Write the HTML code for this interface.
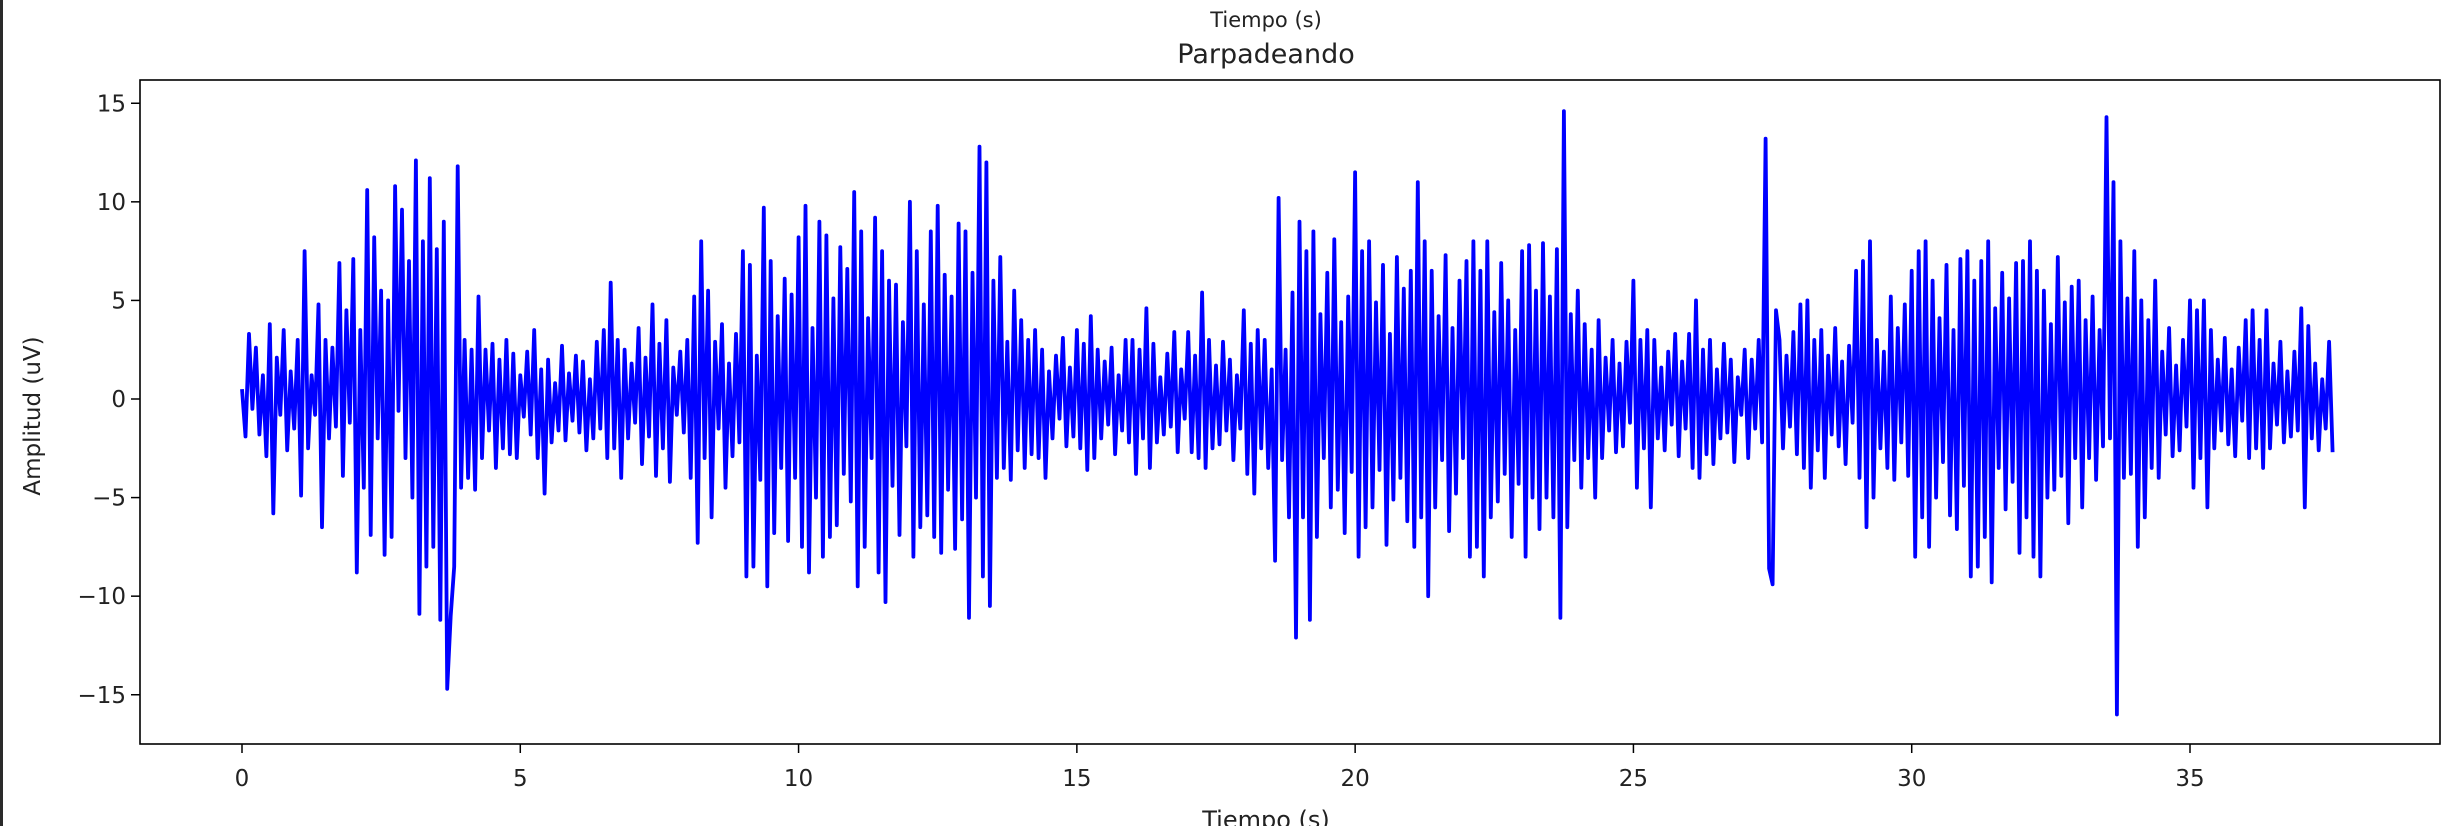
<!DOCTYPE html>
<html><head><meta charset="utf-8"><style>
html,body{margin:0;padding:0;background:#fff;}
body{width:2442px;height:826px;overflow:hidden;position:relative;}
svg text{font-family:"DejaVu Sans","Liberation Sans",sans-serif;fill:#222;}
</style></head><body>
<svg id="chart" width="2442" height="826" viewBox="0 0 2442 826" xmlns="http://www.w3.org/2000/svg">
<rect x="0" y="0" width="2442" height="826" fill="#fff"/>
<rect x="0" y="0" width="3" height="826" fill="#2a2a2a"/>
<text x="1266" y="27" font-size="21" text-anchor="middle">Tiempo (s)</text>
<text x="1266" y="63" font-size="27" text-anchor="middle">Parpadeando</text>
<text x="1266" y="828" font-size="24" text-anchor="middle">Tiempo (s)</text>
<text transform="translate(40,416) rotate(-90)" font-size="23" text-anchor="middle">Amplitud (uV)</text>
<g id="plot"></g>
<rect x="140" y="80" width="2300" height="664" fill="none" stroke="#000" stroke-width="1.6"/>
</svg>
<script>
const xTicks = [0,5,10,15,20,25,30,35];
const yTicks = [15,10,5,0,-5,-10,-15];
const yTickLabels = ["15","10","5","0","\u22125","\u221210","\u221215"];
const sampleStep = 0.0625;
const amplitude = [
0.5,-1.9,3.3,-0.5,2.6,-1.8,1.2,-2.9,3.8,-5.8,2.1,-0.8,3.5,-2.6,1.4,-1.5,
3.0,-4.9,7.5,-2.5,1.2,-0.8,4.8,-6.5,3.0,-2.0,2.6,-1.4,6.9,-3.9,4.5,-1.2,
7.1,-8.8,3.5,-4.5,10.6,-6.9,8.2,-2.0,5.5,-7.9,5.0,-7.0,10.8,-0.6,9.6,-3.0,
7.0,-5.0,12.1,-10.9,8.0,-8.5,11.2,-7.5,7.6,-11.2,9.0,-14.7,-11.0,-8.5,11.8,-4.5,
3.0,-4.0,2.5,-4.6,5.2,-3.0,2.5,-1.6,2.8,-3.5,2.0,-2.5,3.0,-2.8,2.3,-3.0,
1.2,-0.9,2.4,-1.8,3.5,-3.0,1.5,-4.8,2.0,-2.2,0.8,-1.6,2.7,-2.1,1.3,-1.1,
2.2,-1.7,1.9,-2.6,1.0,-2.0,2.9,-1.5,3.5,-3.0,5.9,-2.5,3.0,-4.0,2.5,-2.0,
1.8,-1.2,3.6,-3.3,2.1,-1.9,4.8,-3.9,2.8,-2.5,4.0,-4.2,1.6,-0.8,2.4,-1.7,
3.0,-4.0,5.2,-7.3,8.0,-3.0,5.5,-6.0,2.9,-1.5,3.8,-4.5,1.8,-2.9,3.3,-2.2,
7.5,-9.0,6.8,-8.5,2.2,-4.1,9.7,-9.5,7.0,-6.8,4.2,-3.5,6.1,-7.2,5.3,-4.0,
8.2,-7.5,9.8,-8.8,3.6,-5.0,9.0,-8.0,8.3,-7.0,5.1,-6.4,7.7,-3.8,6.6,-5.2,
10.5,-9.5,8.5,-7.5,4.1,-3.0,9.2,-8.8,7.5,-10.3,6.0,-4.4,5.8,-6.9,3.9,-2.4,
10.0,-8.0,7.5,-6.5,4.8,-5.9,8.5,-7.0,9.8,-7.8,6.3,-4.6,5.2,-7.6,8.9,-6.1,
8.5,-11.1,6.4,-5.0,12.8,-9.0,12.0,-10.5,6.0,-4.0,7.2,-3.5,2.9,-4.1,5.5,-2.6,
4.0,-3.5,3.0,-2.8,3.5,-3.0,2.5,-4.0,1.4,-2.0,2.2,-1.0,3.1,-2.4,1.6,-1.9,
3.5,-2.5,2.8,-3.6,4.2,-3.0,2.5,-2.0,1.9,-1.3,2.6,-2.8,1.2,-1.6,3.0,-2.2,
3.0,-3.8,2.5,-2.0,4.6,-3.5,2.8,-2.2,1.1,-1.8,2.3,-1.4,3.4,-2.7,1.5,-1.0,
3.4,-2.7,2.2,-3.0,5.4,-3.5,3.0,-2.5,1.7,-2.3,2.9,-1.6,2.0,-3.1,1.2,-1.5,
4.5,-3.8,2.8,-4.8,3.5,-2.5,3.0,-3.5,1.5,-8.2,10.2,-3.1,2.5,-6.0,5.4,-12.1,
9.0,-6.0,7.5,-11.2,8.5,-7.0,4.3,-3.0,6.4,-5.5,8.1,-4.6,3.9,-6.8,5.2,-3.7,
11.5,-8.0,7.5,-6.5,8.0,-5.5,4.9,-3.6,6.8,-7.4,3.3,-5.1,7.2,-4.0,5.6,-6.2,
6.5,-7.5,11.0,-6.0,8.0,-10.0,6.5,-5.5,4.2,-3.1,7.3,-6.7,3.6,-4.8,6.0,-3.0,
7.0,-8.0,8.0,-7.5,6.5,-9.0,8.0,-6.0,4.4,-5.2,6.9,-3.8,5.0,-7.0,3.5,-4.3,
7.5,-8.0,7.8,-5.0,5.5,-6.6,7.9,-5.0,5.2,-6.0,7.6,-11.1,14.6,-6.5,4.3,-3.1,
5.5,-4.5,3.8,-3.0,2.5,-5.0,4.0,-3.0,2.1,-1.6,3.0,-2.7,1.8,-2.4,2.9,-1.2,
6.0,-4.5,3.0,-2.5,3.5,-5.5,3.0,-2.0,1.6,-2.6,2.4,-1.3,3.3,-2.9,1.9,-1.5,
3.3,-3.5,5.0,-4.0,2.5,-2.8,3.0,-3.3,1.5,-2.0,2.8,-1.7,2.0,-3.2,1.1,-0.8,
2.5,-3.0,2.0,-1.5,3.0,-2.2,13.2,-8.6,-9.4,4.5,3.0,-2.5,2.2,-1.4,3.4,-2.8,
4.8,-3.5,5.0,-4.5,3.0,-2.6,3.5,-4.0,2.2,-1.8,3.6,-2.4,1.9,-3.3,2.7,-1.2,
6.5,-4.0,7.0,-6.5,8.0,-5.0,3.0,-2.5,2.4,-3.5,5.2,-4.1,3.6,-2.2,4.8,-3.9,
6.5,-8.0,7.5,-6.0,8.0,-7.5,6.0,-5.0,4.1,-3.2,6.8,-5.9,3.5,-6.6,7.1,-4.4,
7.5,-9.0,6.0,-8.5,7.0,-7.0,8.0,-9.3,4.6,-3.5,6.4,-5.6,5.1,-4.2,6.9,-7.8,
7.0,-6.0,8.0,-8.0,6.5,-9.0,5.5,-5.0,3.8,-4.6,7.2,-3.9,4.9,-6.3,5.7,-3.0,
6.0,-5.5,4.0,-3.0,5.2,-4.1,3.5,-2.4,14.3,-2.0,11.0,-16.0,8.0,-4.0,5.1,-3.8,
7.5,-7.5,5.0,-6.0,4.0,-3.5,6.0,-4.0,2.4,-1.8,3.6,-2.9,1.7,-2.6,3.0,-1.4,
5.0,-4.5,4.5,-3.0,5.0,-5.5,3.5,-2.5,2.0,-1.6,3.1,-2.3,1.5,-2.9,2.6,-1.1,
4.0,-3.0,4.5,-2.5,3.0,-3.5,4.5,-2.5,1.8,-1.3,2.9,-2.2,1.4,-1.9,2.4,-1.6,
4.6,-5.5,3.7,-2.0,1.8,-2.6,1.0,-1.5,2.9,-2.7
];
const NS="http://www.w3.org/2000/svg";
const X0=140,X1=2440,Y0=80,Y1=744;
function xs(t){return 242+t*(2190-242)/35;}
function ys(v){return 399-v*(695.5-104)/30;}
const plot=document.getElementById('plot');
let d='';
for(let i=0;i<amplitude.length;i++){d+=(i?'L':'M')+xs(i*sampleStep).toFixed(1)+' '+ys(amplitude[i]).toFixed(1);}
const line=document.createElementNS(NS,'path');
line.setAttribute('d',d);line.setAttribute('fill','none');line.setAttribute('stroke','#0000ff');
line.setAttribute('stroke-width','3.8');line.setAttribute('stroke-linejoin','round');


plot.appendChild(line);
xTicks.forEach(function(t){
  const tk=document.createElementNS(NS,'line');
  tk.setAttribute('x1',xs(t));tk.setAttribute('x2',xs(t));tk.setAttribute('y1',Y1);tk.setAttribute('y2',Y1+9);tk.setAttribute('stroke','#000');tk.setAttribute('stroke-width','1.5');
  
  
  plot.appendChild(tk);
  const tx=document.createElementNS(NS,'text');
  tx.setAttribute('x',xs(t));tx.setAttribute('y',Y1+42);tx.setAttribute('font-size','23');tx.setAttribute('text-anchor','middle');
  tx.textContent=String(t);
  
  
  plot.appendChild(tx);
});
yTicks.forEach(function(v,i){
  const tk=document.createElementNS(NS,'line');
  tk.setAttribute('x1',X0-9);tk.setAttribute('x2',X0);tk.setAttribute('y1',ys(v));tk.setAttribute('y2',ys(v));tk.setAttribute('stroke','#000');tk.setAttribute('stroke-width','1.5');
  
  
  plot.appendChild(tk);
  const tx=document.createElementNS(NS,'text');
  tx.setAttribute('x',X0-14);tx.setAttribute('y',ys(v)+8);tx.setAttribute('font-size','23');tx.setAttribute('text-anchor','end');
  tx.textContent=yTickLabels[i];
  
  
  plot.appendChild(tx);
});
</script>
</body></html>
